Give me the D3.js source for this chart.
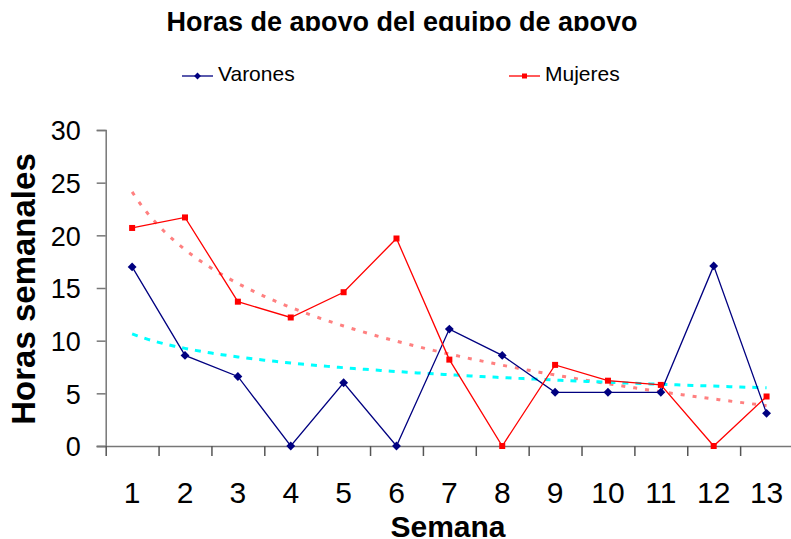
<!DOCTYPE html>
<html>
<head>
<meta charset="utf-8">
<script src="https://cdn.jsdelivr.net/npm/d3@7"></script>
<style>
  body { margin: 0; background: #fff; }
  svg { display: block; font-family: "Liberation Sans", Arial, sans-serif; }
</style>
</head>
<body>
<svg width="791" height="539"></svg>
<script>
// data
var semanas = ["1", "2", "3", "4", "5", "6", "7", "8", "9", "10", "11", "12", "13"];
var varones = [17, 8.6, 6.6, 0, 6, 0, 11.1, 8.6, 5.1, 5.1, 5.1, 17.1, 3.1];
var mujeres = [20.7, 21.7, 13.7, 12.2, 14.6, 19.7, 8.2, 0, 7.7, 6.2, 5.8, 0, 4.7];
var yTicks = [0, 5, 10, 15, 20, 25, 30];

var svg = d3.select("svg");

var plotLeft = 105.7, plotRight = 793, plotTop = 130, plotBottom = 446;

var x = d3.scaleBand().domain(semanas).range([plotLeft, plotRight]).paddingInner(0).paddingOuter(0);
// continuous version of x, used for the trend curves
var xLin = d3.scaleLinear().domain([0.5, semanas.length + 0.5]).range([plotLeft, plotRight]);
var y = d3.scaleLinear().domain([0, 30]).range([plotBottom, plotTop]);

function cx(d, i) { return x(semanas[i]) + x.bandwidth() / 2; }

// title, clipped at the bottom like the original
svg.append("clipPath").attr("id", "titleClip")
  .append("rect").attr("x", 0).attr("y", 0).attr("width", 791).attr("height", 31);
svg.append("text")
    .attr("x", 402).attr("y", 31)
    .attr("text-anchor", "middle")
    .attr("clip-path", "url(#titleClip)")
    .style("font-size", "27px").style("font-weight", "bold")
    .text("Horas de apoyo del equipo de apoyo");

// y axis
var yAxis = svg.append("g")
    .attr("transform", "translate(" + plotLeft + ",0)")
    .call(d3.axisLeft(y).tickValues(yTicks).tickSize(9).tickPadding(16));
yAxis.select(".domain").attr("stroke", "#777").attr("stroke-width", 1.5);
yAxis.selectAll(".tick line").attr("stroke", "#777").attr("stroke-width", 1.5);
yAxis.selectAll(".tick text").style("font-size", "27px").attr("fill", "#000")
    .attr("dy", "0.36em").attr("font-family", "Liberation Sans, Arial, sans-serif");

// x axis: tick marks on band edges, labels centred
var edges = d3.range(0.5, semanas.length + 1, 1);
var xTickAxis = svg.append("g")
    .attr("transform", "translate(0," + plotBottom + ")")
    .call(d3.axisBottom(xLin).tickValues(edges).tickSize(10).tickFormat(""));
xTickAxis.select(".domain").attr("stroke", "#777").attr("stroke-width", 1.5)
    .attr("d", "M" + (plotLeft - 9) + ",0.5H" + plotRight);
xTickAxis.selectAll(".tick line").attr("stroke", "#555").attr("stroke-width", 1.5);

var xLabels = svg.append("g")
    .attr("transform", "translate(0," + plotBottom + ")")
    .call(d3.axisBottom(x).tickSize(0).tickPadding(0));
xLabels.select(".domain").remove();
xLabels.selectAll(".tick text").style("font-size", "30px").attr("fill", "#000")
    .attr("y", 57).attr("dy", 0).attr("font-family", "Liberation Sans, Arial, sans-serif");

// axis titles
svg.append("text")
    .attr("x", 448).attr("y", 537)
    .attr("text-anchor", "middle")
    .style("font-size", "30px").style("font-weight", "bold")
    .text("Semana");
svg.append("text")
    .attr("transform", "translate(35,289) rotate(-90)")
    .attr("text-anchor", "middle")
    .style("font-size", "33px").style("font-weight", "bold")
    .text("Horas semanales");

// logarithmic trend (least squares on ln(week)), like the spreadsheet trendline
function logFit(vals) {
  var lx = vals.map(function(d, i) { return Math.log(i + 1); });
  var mx = d3.mean(lx), my = d3.mean(vals);
  var sxy = d3.sum(vals, function(d, i) { return (lx[i] - mx) * (d - my); });
  var sxx = d3.sum(lx, function(v) { return (v - mx) * (v - mx); });
  var b = sxy / sxx, a = my - b * mx;
  return function(w) { return a + b * Math.log(w); };
}
var steps = d3.range(1, 13.001, 0.1);
var trendLine = d3.line().x(function(d) { return xLin(d[0]); }).y(function(d) { return y(d[1]); });

var fitM = logFit(mujeres), fitV = logFit(varones);
svg.append("path")
    .datum(steps.map(function(w) { return [w, fitM(w)]; }))
    .attr("d", trendLine)
    .attr("fill", "none").attr("stroke", "#ff8080")
    .attr("stroke-width", 3).attr("stroke-dasharray", "4,8");
svg.append("path")
    .datum(steps.map(function(w) { return [w, fitV(w)]; }))
    .attr("d", trendLine)
    .attr("fill", "none").attr("stroke", "#00ffff")
    .attr("stroke-width", 3).attr("stroke-dasharray", "6,7");

// series lines
var line = d3.line().x(cx).y(function(d) { return y(d); });

svg.append("path").datum(varones).attr("d", line)
    .attr("fill", "none").attr("stroke", "#000080").attr("stroke-width", 1.3);
svg.append("path").datum(mujeres).attr("d", line)
    .attr("fill", "none").attr("stroke", "#ff0000").attr("stroke-width", 1.3);

var diamond = d3.symbol().type(d3.symbolDiamond2).size(50);
svg.append("g").selectAll("path").data(varones).enter().append("path")
    .attr("d", diamond)
    .attr("transform", function(d, i) { return "translate(" + cx(d, i) + "," + y(d) + ")"; })
    .attr("fill", "#000080");

svg.append("g").selectAll("rect").data(mujeres).enter().append("rect")
    .attr("x", function(d, i) { return cx(d, i) - 3; })
    .attr("y", function(d) { return y(d) - 3; })
    .attr("width", 6).attr("height", 6)
    .attr("fill", "#ff0000");

// legend
var legend = [
  { name: "Varones", color: "#000080", x: 182, marker: "diamond" },
  { name: "Mujeres", color: "#ff0000", x: 509, marker: "square" }
];
var lg = svg.append("g").selectAll("g").data(legend).enter().append("g")
    .attr("transform", function(d) { return "translate(" + d.x + ",76)"; });
lg.append("line").attr("x1", 0).attr("x2", 31).attr("y1", 0).attr("y2", 0)
    .attr("stroke", function(d) { return d.color; }).attr("stroke-width", 1.3);
lg.append("path")
    .attr("d", function(d) {
      return d.marker === "diamond"
        ? d3.symbol().type(d3.symbolDiamond2).size(30)()
        : d3.symbol().type(d3.symbolSquare).size(25)();
    })
    .attr("transform", "translate(15.5,0)")
    .attr("fill", function(d) { return d.color; });
lg.append("text").attr("x", 36).attr("y", 5)
    .style("font-size", "21px")
    .text(function(d) { return d.name; });
</script>
</body>
</html>
